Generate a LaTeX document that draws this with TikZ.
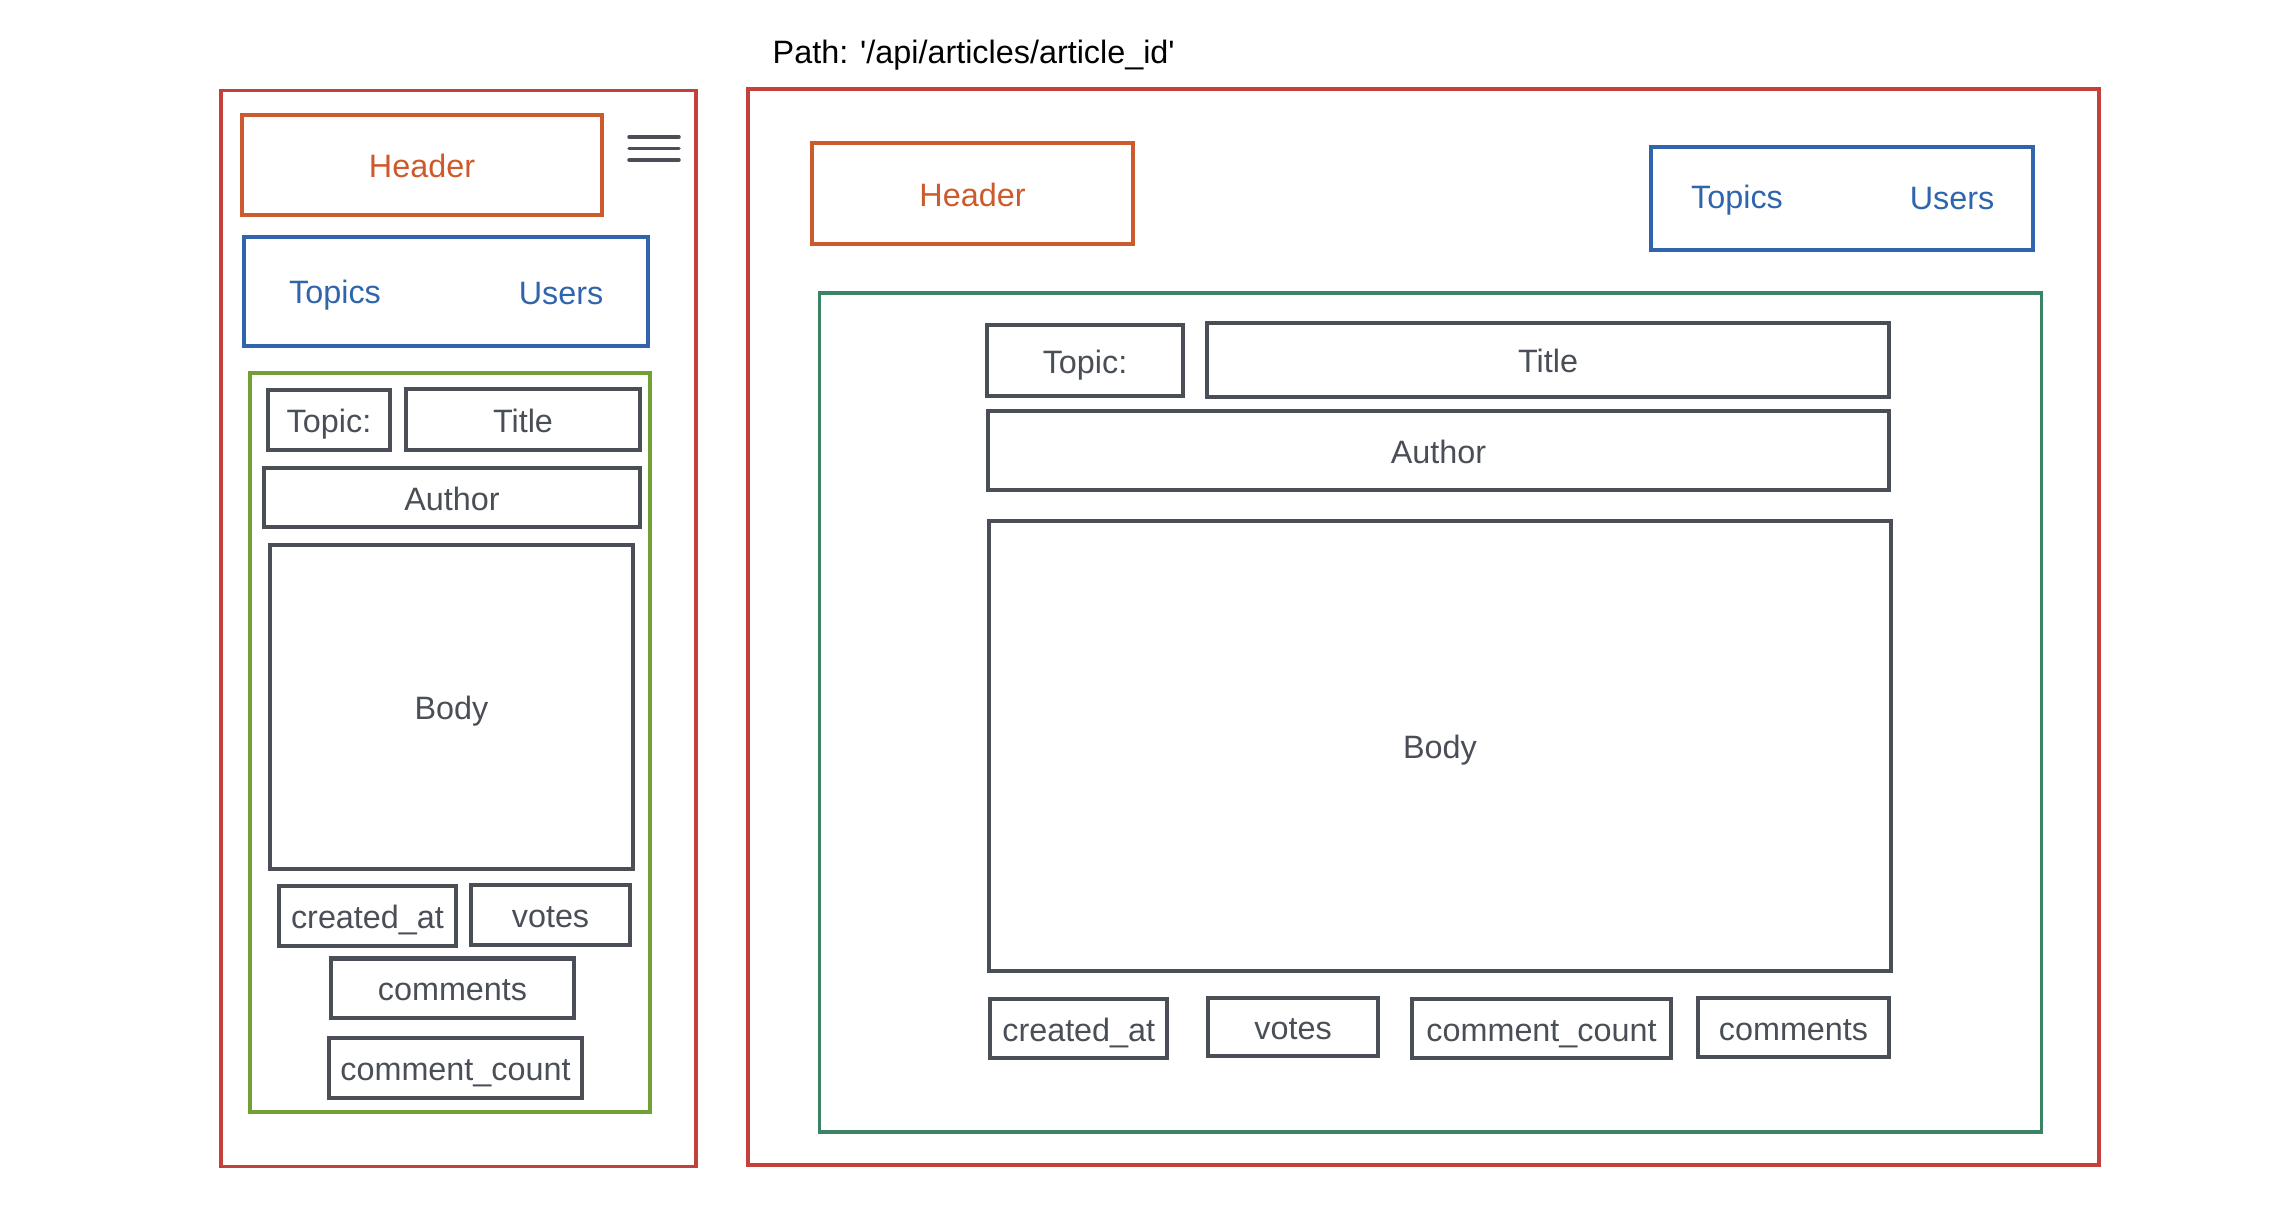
\documentclass[tikz,border=0pt]{standalone}
\usepackage{fontspec}
\setmainfont{Liberation Sans}
\usepackage{tikz}
\usetikzlibrary{positioning}
\definecolor{frameRed}{HTML}{C4403A}
\definecolor{headOrange}{HTML}{CD5A2C}
\definecolor{navBlue}{HTML}{2F65AC}
\definecolor{mobGreen}{HTML}{71A035}
\definecolor{deskGreen}{HTML}{3A8463}
\definecolor{boxGray}{HTML}{4A4F57}
\tikzset{
  label/.style={text height=0.72em, text depth=0pt},
  pagebox/.style={draw=frameRed, line width=1pt, inner sep=0pt},
  headbox/.style={label, draw=headOrange, line width=1pt, text=headOrange},
  navbox/.style={draw=navBlue, line width=1.1pt, inner sep=0pt},
  navlink/.style={label, text=navBlue},
  field/.style={label, draw=boxGray, line width=1.15pt, text=boxGray, inner sep=0pt},
}

\begin{document}
\begin{tikzpicture}[x=0.01cm, y=-0.01cm, font=\fontsize{9.2pt}{11pt}\selectfont]
    \useasboundingbox (0,0) rectangle (2286,1228);
    \node[label, anchor=west, inner sep=0pt] (path) at (772,51) {Path: \textquotesingle/api/articles/article\_id\textquotesingle};

    % LEFT: mobile layout
    \node[pagebox, minimum width=4.75cm, minimum height=10.75cm] (mFrame) at (458.5,628.5) {};
    \node[headbox, minimum width=3.6cm, minimum height=1cm] (mHeader) at (422,165) {Header};
    % menu icon
    \foreach \y in {137,148.5,160}
        \draw[boxGray, line width=1pt, line cap=round] (629,\y) -- (679,\y);
    \node[navbox, minimum width=4.04cm, minimum height=1.09cm] (mNav) at (446,291.5) {};
    \node[navlink] (mTopics) at (335,291) {Topics};
    \node[navlink] (mUsers) at (561,292) {Users};
    \node[draw=mobGreen, line width=1pt, minimum width=4cm, minimum height=7.39cm] (mContent) at (450,742.5) {};
    \node[field, minimum width=1.22cm, minimum height=0.6cm] (mTopic) at (329,420) {Topic:};
    \node[field, minimum width=2.34cm, minimum height=0.61cm] (mTitle) at (523,419.5) {Title};
    \node[field, minimum width=3.76cm, minimum height=0.59cm] (mAuthor) at (452,497.5) {Author};
    \node[field, minimum width=3.63cm, minimum height=3.24cm] (mBody) at (451.5,707) {Body};
    \node[field, minimum width=1.77cm, minimum height=0.6cm] (mCreated) at (367.5,916) {created\_at};
    \node[field, minimum width=1.59cm, minimum height=0.6cm] (mVotes) at (550.5,915) {votes};
    \node[field, minimum width=2.43cm, minimum height=0.59cm] (mComments) at (452.5,988) {comments};
    \node[field, minimum width=2.53cm, minimum height=0.6cm] (mCount) at (455.5,1068) {comment\_count};

    % RIGHT: desktop layout
    \node[pagebox, minimum width=13.5cm, minimum height=10.755cm] (dFrame) at (1423.5,627) {};
    \node[headbox, minimum width=3.21cm, minimum height=1.01cm] (dHeader) at (972.5,193.5) {Header};
    \node[navbox, minimum width=3.82cm, minimum height=1.03cm] (dNav) at (1842,198.5) {};
    \node[navlink] (dTopics) at (1737,196) {Topics};
    \node[navlink] (dUsers) at (1952,197) {Users};
    \node[draw=deskGreen, line width=1pt, minimum width=12.21cm, minimum height=8.386cm] (dContent) at (1430.5,712.3) {};
    \node[field, minimum width=1.96cm, minimum height=0.71cm] (dTopic) at (1085,360.5) {Topic:};
    \node[field, minimum width=6.82cm, minimum height=0.74cm] (dTitle) at (1548,360) {Title};
    \node[field, minimum width=9.01cm, minimum height=0.79cm] (dAuthor) at (1438.5,450.5) {Author};
    \node[field, minimum width=9.02cm, minimum height=4.5cm] (dBody) at (1440,746) {Body};
    \node[field, minimum width=1.765cm, minimum height=0.59cm] (dCreated) at (1078.75,1028.5) {created\_at};
    \node[field, minimum width=1.7cm, minimum height=0.58cm] (dVotes) at (1293,1027) {votes};
    \node[field, minimum width=2.59cm, minimum height=0.59cm] (dCount) at (1541.5,1028.5) {comment\_count};
    \node[field, minimum width=1.91cm, minimum height=0.59cm] (dComments) at (1793.5,1027.5) {comments};
\end{tikzpicture}
\end{document}
